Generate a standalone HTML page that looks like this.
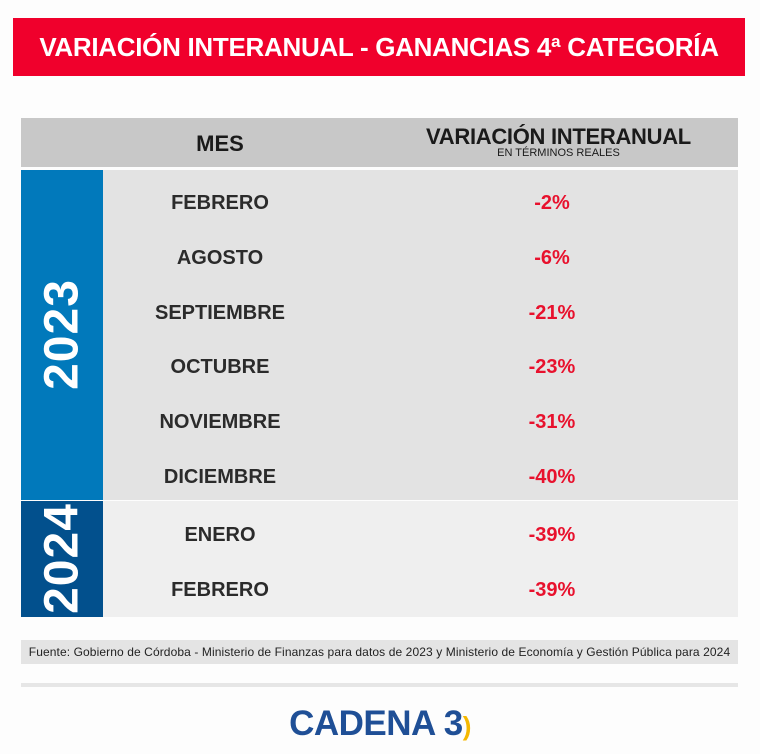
<!DOCTYPE html>
<html><head><meta charset="utf-8"><style>
*{margin:0;padding:0;box-sizing:border-box}
body{width:760px;height:754px;background:#fdfdfd;position:relative;font-family:"Liberation Sans",sans-serif;overflow:hidden}
.abs{position:absolute}
.banner{left:13px;top:18px;width:732px;height:58px;background:#f0002c;color:#fff;font-weight:bold;font-size:26px;text-align:center;line-height:58px;letter-spacing:-0.3px}
.hdr{left:21px;top:118px;width:717px;height:49px;background:#c8c8c8}
.r23{left:21px;top:170px;width:717px;height:330px;background:#e3e3e3}
.r24{left:21px;top:501px;width:717px;height:116px;background:#efefef}
.b23{left:21px;top:170px;width:82px;height:330px;background:#0179bb}
.b24{left:21px;top:501px;width:82px;height:116px;background:#02508d}
.yr{color:#fff;font-weight:bold;font-size:48px;transform:rotate(-90deg);width:200px;text-align:center;letter-spacing:1px}
.m{left:120px;width:200px;text-align:center;font-weight:bold;font-size:20px;color:#2b2b2b}
.v{left:452px;width:200px;text-align:center;font-weight:bold;font-size:20px;color:#e8112d}
.foot{left:21px;top:640px;width:717px;height:24px;background:#e4e4e4;font-size:12px;color:#222;text-align:center;line-height:24px;letter-spacing:0.1px}
</style></head><body>
<div class="abs banner">VARIACIÓN INTERANUAL - GANANCIAS 4ª CATEGORÍA</div>
<div class="abs hdr"></div>
<div class="abs" style="left:120px;top:131px;width:200px;text-align:center;font-weight:bold;font-size:22px;color:#1a1a1a">MES</div>
<div class="abs" style="left:400px;top:124px;width:317px;text-align:center;font-weight:bold;font-size:22px;color:#1a1a1a;letter-spacing:-0.3px">VARIACIÓN INTERANUAL</div>
<div class="abs" style="left:400px;top:147px;width:317px;text-align:center;font-size:11px;color:#1a1a1a">EN TÉRMINOS REALES</div>
<div class="abs r23"></div><div class="abs r24"></div>
<div class="abs b23"></div><div class="abs b24"></div>
<div class="abs yr" style="left:-38px;top:307px">2023</div>
<div class="abs yr" style="left:-38px;top:531px">2024</div>
<div class="abs m" style="top:192px">FEBRERO</div><div class="abs v" style="top:192px">-2%</div>
<div class="abs m" style="top:247px">AGOSTO</div><div class="abs v" style="top:247px">-6%</div>
<div class="abs m" style="top:302px">SEPTIEMBRE</div><div class="abs v" style="top:302px">-21%</div>
<div class="abs m" style="top:356px">OCTUBRE</div><div class="abs v" style="top:356px">-23%</div>
<div class="abs m" style="top:411px">NOVIEMBRE</div><div class="abs v" style="top:411px">-31%</div>
<div class="abs m" style="top:466px">DICIEMBRE</div><div class="abs v" style="top:466px">-40%</div>
<div class="abs m" style="top:524px">ENERO</div><div class="abs v" style="top:524px">-39%</div>
<div class="abs m" style="top:579px">FEBRERO</div><div class="abs v" style="top:579px">-39%</div>
<div class="abs foot">Fuente: Gobierno de Córdoba - Ministerio de Finanzas para datos de 2023 y Ministerio de Economía y Gestión Pública para 2024</div>
<div class="abs" style="left:21px;top:683px;width:717px;height:4px;background:#e6e6e6"></div>
<div class="abs" style="left:260px;top:704px;width:240px;text-align:center;font-weight:bold;font-size:35px;color:#1f4f96;letter-spacing:-0.5px">CADENA 3<span style="color:#f5b800;font-size:26px">)</span></div>
</body></html>
